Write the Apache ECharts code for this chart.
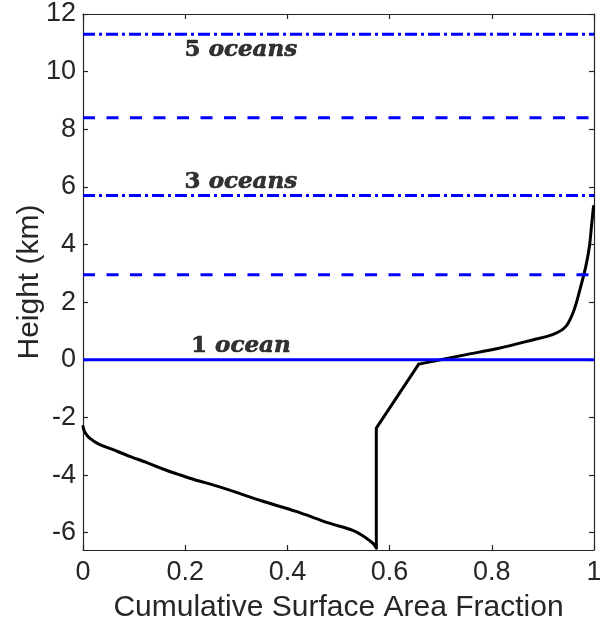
<!DOCTYPE html>
<html>
<head>
<meta charset="utf-8">
<title>Hypsometric curve</title>
<script src="https://cdn.jsdelivr.net/npm/echarts@6/dist/echarts.min.js"></script>
<style>
  html, body { margin: 0; padding: 0; background: #ffffff; }
  #chart { width: 600px; height: 625px; }
</style>
</head>
<body>
<div id="chart"></div>
<script>
// Cumulative surface area fraction vs. height (km)
const areaFraction = [
  0, 0.002, 0.006, 0.013, 0.03, 0.059, 0.09, 0.124, 0.155, 0.189, 0.22, 0.254,
  0.287, 0.303, 0.352, 0.417, 0.482, 0.528, 0.554, 0.568, 0.574,
  0.574, 0.657, 0.75, 0.814, 0.88, 0.919, 0.945, 0.961, 0.974, 0.984, 0.991, 0.995, 0.999
];
const heightKm = [
  -2.31, -2.45, -2.58, -2.72, -2.92, -3.12, -3.34, -3.56, -3.78, -3.99, -4.17, -4.34,
  -4.52, -4.62, -4.91, -5.26, -5.67, -5.92, -6.18, -6.38, -6.53,
  -2.37, -0.15, 0.18, 0.40, 0.69, 0.87, 1.16, 1.73, 2.54, 3.24, 3.93, 4.62, 5.32
];
// Index ranges of the curve: ocean basins (smooth), shelf break (straight), land (smooth)
const basinEnd = 20;
const shelfEnd = 22;

// Sea levels for 1, 2, 3, 4, 5 oceans of water
const oceanLevels = [0, 2.95, 5.7, 8.4, 11.3];
const oceanStyles = ['solid', 'dash', 'dashdot', 'dash', 'dashdot'];

// Annotations: number of oceans and where the text sits
const oceanLabelCounts = ['1', '3', '5'];
const oceanLabelWords = ['ocean', 'oceans', 'oceans'];
const oceanLabelX = [0.309, 0.309, 0.309];
const oceanLabelY = [0.49, 6.17, 10.75];

const xTicks = [0, 0.2, 0.4, 0.6, 0.8, 1];
const yTicks = [-6, -4, -2, 0, 2, 4, 6, 8, 10, 12];

const axisColor = '#262626';
const lineBlue = '#0000ff';
const sansFont = '"Liberation Sans", Arial, Helvetica, sans-serif';
const serifFont = '"DejaVu Serif", "Liberation Serif", serif';

const dashPatterns = {
  solid: 'solid',
  dash: [12, 11.5],
  dashdot: [12, 4, 3, 4]
};

const chart = echarts.init(document.getElementById('chart'), null, { renderer: 'canvas' });

const curveData = areaFraction.map((x, i) => [x, heightKm[i]]);

function curvePiece(from, to, smooth) {
  return {
    type: 'line',
    xAxisIndex: 0,
    yAxisIndex: 0,
    data: curveData.slice(from, to + 1),
    symbol: 'none',
    silent: true,
    smooth: smooth ? 0.3 : false,
    z: 2,
    lineStyle: { color: '#000000', width: 3, join: 'round', cap: 'round' }
  };
}

const curveSeries = [
  curvePiece(0, basinEnd, true),
  curvePiece(basinEnd, shelfEnd, false),
  curvePiece(shelfEnd, curveData.length - 1, true)
];

const levelSeries = oceanLevels.map((h, i) => ({
  type: 'line',
  xAxisIndex: 0,
  yAxisIndex: 0,
  data: [[0, h], [1, h]],
  symbol: 'none',
  silent: true,
  z: 3,
  lineStyle: { color: lineBlue, width: 3, type: dashPatterns[oceanStyles[i]] }
}));

const labelData = oceanLabelX.map((x, i) => ({
  value: [x, oceanLabelY[i]],
  label: {
    formatter: '{n|' + oceanLabelCounts[i] + ' }{w|' + oceanLabelWords[i] + '}'
  }
}));

const commonTickLabel = {
  color: axisColor,
  fontFamily: sansFont,
  fontSize: 27
};

const labelTextStyle = {
  fontFamily: serifFont,
  fontWeight: 'bold',
  fontSize: 23,
  color: '#000000',
  textBorderColor: '#000000',
  textBorderWidth: 0.6
};

const option = {
  backgroundColor: '#ffffff',
  animation: false,
  grid: { left: 83, right: 6, top: 14, bottom: 75, containLabel: false, outerBoundsMode: 'none' },
  xAxis: [
    {
      type: 'value',
      position: 'bottom',
      min: 0, max: 1, interval: 0.2,
      name: 'Cumulative Surface Area Fraction',
      nameLocation: 'middle',
      nameGap: 43,
      nameMoveOverlap: false,
      nameTextStyle: { color: axisColor, fontFamily: sansFont, fontSize: 30 },
      axisLine: { show: true, onZero: false, lineStyle: { color: axisColor, width: 1.2 } },
      axisTick: { show: true, inside: true, length: 5, lineStyle: { color: axisColor, width: 1.2 } },
      axisLabel: Object.assign({ margin: 9, formatter: v => String(Math.round(v * 10) / 10) }, commonTickLabel),
      splitLine: { show: false }
    },
    {
      type: 'value',
      position: 'top',
      min: 0, max: 1, interval: 0.2,
      axisLine: { show: true, onZero: false, lineStyle: { color: axisColor, width: 1.2 } },
      axisTick: { show: true, inside: true, length: 5, lineStyle: { color: axisColor, width: 1.2 } },
      axisLabel: { show: false },
      splitLine: { show: false }
    }
  ],
  yAxis: [
    {
      type: 'value',
      position: 'left',
      min: -6.6, max: 12,
      name: 'Height (km)',
      nameLocation: 'middle',
      nameGap: 38,
      nameMoveOverlap: false,
      nameTextStyle: { color: axisColor, fontFamily: sansFont, fontSize: 30 },
      axisLine: { show: true, onZero: false, lineStyle: { color: axisColor, width: 1.2 } },
      axisTick: { show: true, inside: true, length: 5, customValues: yTicks, lineStyle: { color: axisColor, width: 1.2 } },
      axisLabel: Object.assign({ margin: 7, customValues: yTicks }, commonTickLabel),
      splitLine: { show: false }
    },
    {
      type: 'value',
      position: 'right',
      min: -6.6, max: 12,
      axisLine: { show: true, onZero: false, lineStyle: { color: axisColor, width: 1.2 } },
      axisTick: { show: true, inside: true, length: 5, customValues: yTicks, lineStyle: { color: axisColor, width: 1.2 } },
      axisLabel: { show: false },
      splitLine: { show: false }
    }
  ],
  series: curveSeries.concat(levelSeries).concat([
    {
      type: 'scatter',
      xAxisIndex: 0,
      yAxisIndex: 0,
      symbolSize: 0,
      silent: true,
      z: 4,
      data: labelData,
      label: {
        show: true,
        position: 'inside',
        color: '#000000',
        rich: {
          n: Object.assign({}, labelTextStyle),
          w: Object.assign({ fontStyle: 'italic' }, labelTextStyle)
        }
      }
    }
  ])
};

chart.setOption(option);
</script>
</body>
</html>
